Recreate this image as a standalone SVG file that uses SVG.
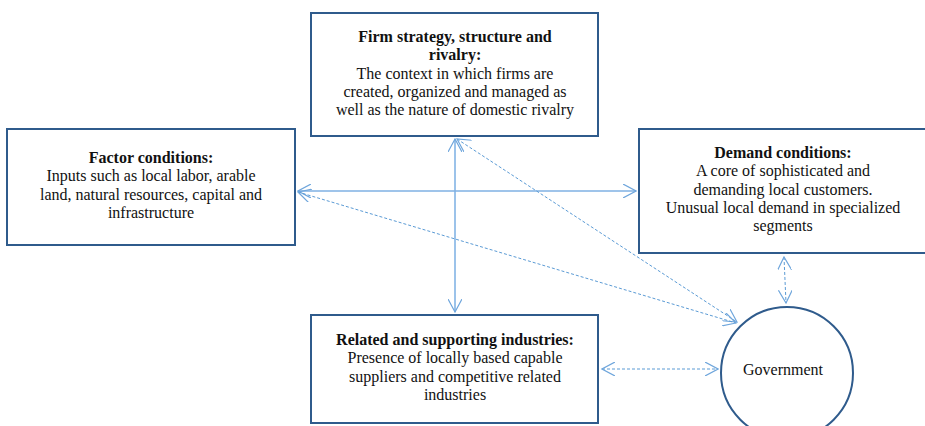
<svg xmlns="http://www.w3.org/2000/svg" width="925" height="426" viewBox="0 0 925 426">
  <style>
    .box { fill: #ffffff; stroke: #2f5b8c; stroke-width: 2; }
    .t { font-family: "Liberation Serif", "Times New Roman", serif; font-size: 16px; fill: #111111; text-anchor: middle; }
    .b { font-weight: bold; }
    .solid { fill: none; stroke: #7fb1e3; stroke-width: 1.3; }
    .thick { fill: none; stroke: #9cc3ea; stroke-width: 2; }
    .dash { fill: none; stroke: #5b9bd5; stroke-width: 1; stroke-dasharray: 3 2; }
  </style>
  <defs>
    <marker id="head" viewBox="0 0 14 14" refX="13" refY="7" markerWidth="14" markerHeight="14" markerUnits="userSpaceOnUse" orient="auto-start-reverse">
      <path d="M0,0 L13,7 L0,14" fill="none" stroke="#6fa6dc" stroke-width="1.2"/>
    </marker>
  </defs>

  <rect width="925" height="426" fill="#ffffff"/>

  <!-- connectors -->
  <g id="connectors">
    <line class="thick" x1="455" y1="139" x2="455" y2="312" marker-start="url(#head)" marker-end="url(#head)"/>
    <line class="solid" x1="298" y1="191" x2="636" y2="191" marker-start="url(#head)" marker-end="url(#head)"/>
    <line class="dash" x1="457" y1="139" x2="737" y2="322" marker-start="url(#head)" marker-end="url(#head)"/>
    <line class="dash" x1="298" y1="192" x2="736" y2="323" marker-start="url(#head)" marker-end="url(#head)"/>
    <line class="dash" x1="784" y1="257" x2="786" y2="303" marker-start="url(#head)" marker-end="url(#head)"/>
    <line class="dash" x1="602" y1="369" x2="718" y2="369" marker-start="url(#head)" marker-end="url(#head)"/>
  </g>

  <!-- Firm strategy -->
  <g id="firm">
    <rect class="box" x="311" y="13" width="287" height="123"/>
    <text class="t b" x="455" y="42">Firm strategy, structure and</text>
    <text class="t b" x="455" y="60.3">rivalry:</text>
    <text class="t" x="455" y="78.6">The context in which firms are</text>
    <text class="t" x="455" y="96.9">created, organized and managed as</text>
    <text class="t" x="455" y="115.2">well as the nature of domestic rivalry</text>
  </g>

  <!-- Factor conditions -->
  <g id="factor">
    <rect class="box" x="7" y="129" width="288" height="116"/>
    <text class="t b" x="151" y="163">Factor conditions:</text>
    <text class="t" x="151" y="181.3">Inputs such as local labor, arable</text>
    <text class="t" x="151" y="199.6">land, natural resources, capital and</text>
    <text class="t" x="151" y="217.9">infrastructure</text>
  </g>

  <!-- Demand conditions -->
  <g id="demand">
    <rect class="box" x="639" y="129" width="300" height="124"/>
    <text class="t b" x="783" y="158">Demand conditions:</text>
    <text class="t" x="783" y="176.3">A core of sophisticated and</text>
    <text class="t" x="783" y="194.6">demanding local customers.</text>
    <text class="t" x="783" y="212.9">Unusual local demand in specialized</text>
    <text class="t" x="783" y="231.2">segments</text>
  </g>

  <!-- Related and supporting industries -->
  <g id="related">
    <rect class="box" x="311" y="315" width="287" height="108"/>
    <text class="t b" x="455" y="345">Related and supporting industries:</text>
    <text class="t" x="455" y="363.3">Presence of locally based capable</text>
    <text class="t" x="455" y="381.6">suppliers and competitive related</text>
    <text class="t" x="455" y="399.9">industries</text>
  </g>

  <!-- Government -->
  <g id="government">
    <circle cx="787" cy="373" r="66" fill="#ffffff" stroke="#2f5b8c" stroke-width="2"/>
    <text class="t" x="783" y="375" font-size="15">Government</text>
  </g>
</svg>
